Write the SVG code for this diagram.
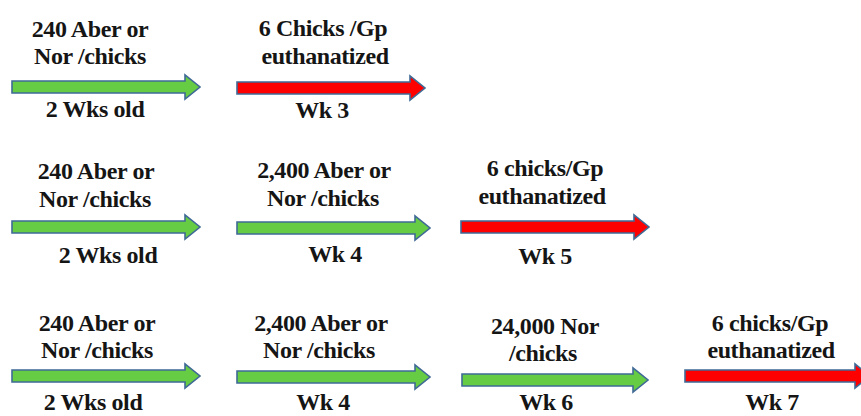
<svg xmlns="http://www.w3.org/2000/svg" width="861" height="416" viewBox="0 0 861 416" font-family="'Liberation Serif', 'Times New Roman', serif">
<style>
text{font-family:'Liberation Serif','Times New Roman',serif;font-weight:bold;font-size:24px;fill:#151515;text-anchor:middle;letter-spacing:-0.4px}
.g{fill:#66cc44;stroke:#3f6a96;stroke-width:1.6}
.r{fill:#ff0000;stroke:#3f6a96;stroke-width:1.6}
</style>
<rect width="861" height="416" fill="#ffffff"/>
<g id="r1s1">
<text x="90" y="37">240 Aber or</text>
<text x="90" y="64">Nor /chicks</text>
<path class="g" d="M12,81 H185 V75 L200,87 L185,99 V93 H12 Z"/>
<text x="95" y="117">2 Wks old</text>
</g>
<g id="r1s2">
<text x="323" y="36">6 Chicks /Gp</text>
<text x="325" y="64">euthanatized</text>
<path class="r" d="M237,82 H410 V76 L425,88 L410,100 V94 H237 Z"/>
<text x="322" y="118">Wk 3</text>
</g>
<g id="r2s1">
<text x="96" y="179">240  Aber or</text>
<text x="95" y="207">Nor /chicks</text>
<path class="g" d="M12,221 H185 V215 L200,227 L185,239 V233 H12 Z"/>
<text x="108" y="263">2 Wks old</text>
</g>
<g id="r2s2">
<text x="324" y="178">2,400 Aber or</text>
<text x="323" y="206">Nor /chicks</text>
<path class="g" d="M237,222 H415 V216 L430,228 L415,240 V234 H237 Z"/>
<text x="335" y="262">Wk 4</text>
</g>
<g id="r2s3">
<text x="545" y="176">6 chicks/Gp</text>
<text x="542" y="204">euthanatized</text>
<path class="r" d="M461,221 H634 V215 L649,227 L634,239 V233 H461 Z"/>
<text x="545" y="264">Wk 5</text>
</g>
<g id="r3s1">
<text x="97" y="331">240 Aber or</text>
<text x="97" y="358">Nor /chicks</text>
<path class="g" d="M12,370 H185 V364 L200,376 L185,388 V382 H12 Z"/>
<text x="93" y="410">2 Wks old</text>
</g>
<g id="r3s2">
<text x="321" y="331">2,400 Aber or</text>
<text x="319" y="358">Nor /chicks</text>
<path class="g" d="M237,371 H415 V365 L430,377 L415,389 V383 H237 Z"/>
<text x="323" y="410">Wk 4</text>
</g>
<g id="r3s3">
<text x="545" y="334">24,000 Nor</text>
<text x="543" y="361">/chicks</text>
<path class="g" d="M462,374 H633 V368 L648,380 L633,392 V386 H462 Z"/>
<text x="546" y="410">Wk 6</text>
</g>
<g id="r3s4">
<text x="770" y="331">6 chicks/Gp</text>
<text x="771" y="358">euthanatized</text>
<path class="r" d="M685,370 H855 V364 L870,376 L855,388 V382 H685 Z"/>
<text x="772" y="410">Wk 7</text>
</g>
<g id="connectors"></g>
</svg>
